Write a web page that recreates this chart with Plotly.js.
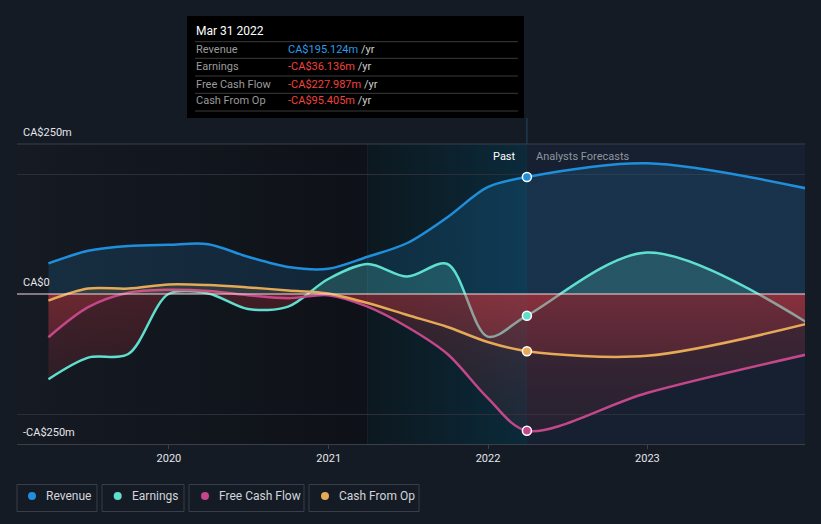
<!DOCTYPE html>
<html>
<head>
<meta charset="utf-8">
<script src="https://cdn.plot.ly/plotly-3.0.1.min.js"></script>
<style>
html,body{margin:0;padding:0;background:#151b25;}
#chart{width:821px;height:524px;}
</style>
</head>
<body>
<div id="chart"></div>
<script>
// ---- data (CA$ millions) ----
const dates = ['2019-03-31','2019-06-30','2019-09-30','2019-12-31','2020-03-31','2020-06-30','2020-09-30','2020-12-31','2021-03-31','2021-06-30','2021-09-30','2021-12-31','2022-03-31','2022-12-31','2023-12-31'];
const revenue  = [51, 72, 80, 82, 83, 62, 45, 42, 62, 85, 128, 178, 195.124, 218, 176];
const earnings = [-142, -106, -100, 0, 1, -25, -21, 25, 50, 29, 50, -71, -36.136, 69, -47];
const fcf      = [-72, -22, 2, 7, 5, -2, -7, -2, -21, -55, -100, -173, -227.987, -165, -101];
const cfo      = [-11, 9, 9, 16, 15, 11, 6, 1, -15, -35, -55, -80, -95.405, -103, -50];
const seriesNames = ['Revenue', 'Earnings', 'Free Cash Flow', 'Cash From Op'];
const yTickVals = [250, 0, -250];
const yTickText = ['CA$250m', 'CA$0', '-CA$250m'];
const yGridMinor = [200, -200];
const pastIndex = 12;           // Mar 31 2022
const tooltipTitle = 'Mar 31 2022';
const highlightStart = '2021-03-31';

// ---- styling ----
const colors = ['#1f8fdc', '#5fe0cf', '#c4478a', '#e5a957'];
const posFill = ['rgba(35,148,223,0.16)', 'rgba(95,224,207,0.20)', 'rgba(196,71,138,0.14)', 'rgba(229,169,87,0.14)'];
const negTop = 'rgba(225,60,70,0.24)';
const negBot = 'rgba(200,50,60,0.06)';
const allSeries = [revenue, earnings, fcf, cfo];

const L = 17, R = 805, T = 144, B = 444;
const px = x => (x - L) / (R - L);
const py = y => (B - y) / (B - T);

const traces = allSeries.map((vals, i) => ({
  type: 'scatter', mode: 'lines', x: dates, y: vals, name: seriesNames[i],
  line: {color: colors[i], width: 2.5, shape: 'spline', smoothing: 0.9},
  fill: 'tozeroy',
  fillgradient: {type: 'vertical', start: -250, stop: 250,
    colorscale: [[0, negBot], [0.5, negTop], [0.5, posFill[i]], [1, posFill[i]]]},
  hoverinfo: 'skip', showlegend: false
}));
allSeries.forEach((vals, i) => {
  traces.push({
    type: 'scatter', mode: 'markers', x: [dates[pastIndex]], y: [vals[pastIndex]],
    marker: {size: 9, color: colors[i], line: {color: '#ffffff', width: 1.5}},
    hoverinfo: 'skip', showlegend: false
  });
});

function gradSvg(c1, c2) {
  const s = '<svg xmlns="http://www.w3.org/2000/svg" width="100" height="100" viewBox="0 0 100 100" preserveAspectRatio="none">' +
    '<defs><linearGradient id="g" x1="0" x2="1" y1="0" y2="0"><stop offset="0" stop-color="' + c1 + '"/>' +
    '<stop offset="1" stop-color="' + c2 + '"/></linearGradient></defs>' +
    '<rect width="100" height="100" fill="url(#g)"/></svg>';
  return 'data:image/svg+xml;charset=utf-8,' + encodeURIComponent(s);
}
const ms = (a, b) => new Date(b) - new Date(a);
const xStart = '2019-01-18', xEnd = '2023-12-28';
const images = [
  {source: gradSvg('#151a23', '#0e1117'), xref: 'x', yref: 'y', x: xStart, y: 250,
   sizex: ms(xStart, highlightStart), sizey: 500, sizing: 'stretch', xanchor: 'left', yanchor: 'top', layer: 'below'},
  {source: gradSvg('#0c181f', '#0b2a3a'), xref: 'x', yref: 'y', x: highlightStart, y: 250,
   sizex: ms(highlightStart, dates[pastIndex]), sizey: 500, sizing: 'stretch', xanchor: 'left', yanchor: 'top', layer: 'below'},
  {source: gradSvg('#172030', '#172030'), xref: 'x', yref: 'y', x: dates[pastIndex], y: 250,
   sizex: ms(dates[pastIndex], xEnd), sizey: 500, sizing: 'stretch', xanchor: 'left', yanchor: 'top', layer: 'below'}
];

const shapes = [
  {type: 'line', xref: 'paper', yref: 'paper', x0: 0, x1: 1, y0: 1, y1: 1, line: {color: '#3a3f49', width: 1}, layer: 'above'},
  {type: 'line', xref: 'x', yref: 'paper', x0: highlightStart, x1: highlightStart, y0: 0, y1: 1, line: {color: '#1c2c36', width: 1}, layer: 'below'},
  {type: 'line', xref: 'paper', yref: 'y', x0: 0, x1: 1, y0: 0, y1: 0, line: {color: '#f2dcdc', width: 1.2}, layer: 'above'},
  {type: 'line', xref: 'x', yref: 'paper', x0: dates[pastIndex], x1: dates[pastIndex], y0: 0, y1: py(118), line: {color: '#1f4a60', width: 1}, layer: 'below'},
  // tooltip box
  {type: 'rect', xref: 'paper', yref: 'paper', x0: px(187), x1: px(524), y0: py(16), y1: py(118), fillcolor: '#000000', line: {width: 0}, layer: 'above'}
];
const sepY = [41.7, 58.3, 76, 93.3, 111];
sepY.forEach(y => shapes.push({type: 'line', xref: 'paper', yref: 'paper', x0: px(195), x1: px(518), y0: py(y), y1: py(y), line: {color: '#3b3b3b', width: 1}, layer: 'above'}));

const annotations = [];
yTickVals.forEach((v, i) => annotations.push({
  xref: 'paper', yref: 'y', x: px(24), y: v, xanchor: 'left', yanchor: 'middle', yshift: 12, xshift: -3,
  text: yTickText[i], showarrow: false, font: {family: 'Roboto, sans-serif', size: 11, color: '#e4e6ea'}
}));
annotations.push({xref: 'paper', yref: 'paper', x: px(518), y: py(156), xanchor: 'right', yanchor: 'middle', text: 'Past', showarrow: false, font: {family: 'Roboto, sans-serif', size: 11, color: '#ffffff'}});
annotations.push({xref: 'paper', yref: 'paper', x: px(534), y: py(156), xanchor: 'left', yanchor: 'middle', text: 'Analysts Forecasts', showarrow: false, font: {family: 'Roboto, sans-serif', size: 11, color: '#8f959e'}});

// tooltip texts
const fmt = v => (v < 0 ? '-CA$' : 'CA$') + Math.abs(v).toFixed(3) + 'm';
annotations.push({xref: 'paper', yref: 'paper', x: px(194), y: py(31.3), xanchor: 'left', yanchor: 'middle', text: tooltipTitle, showarrow: false, font: {family: 'Roboto, sans-serif', size: 12, color: '#ffffff'}});
const rowY = [49.3, 66.7, 84, 100.7];
allSeries.forEach((vals, i) => {
  const v = vals[pastIndex];
  annotations.push({xref: 'paper', yref: 'paper', x: px(194), y: py(rowY[i]), xanchor: 'left', yanchor: 'middle', text: seriesNames[i], showarrow: false, font: {family: 'Roboto, sans-serif', size: 11, color: '#9b9b9b'}});
  annotations.push({xref: 'paper', yref: 'paper', x: px(286), y: py(rowY[i]), xanchor: 'left', yanchor: 'middle',
    text: '<span style="color:' + (v < 0 ? '#f2423c' : '#2b9be8') + '">' + fmt(v) + '</span> /yr', showarrow: false,
    font: {family: 'Roboto, sans-serif', size: 11, color: '#cfcfcf'}});
});

// legend boxes
const legBox = [[17, 97], [102, 184], [189, 304], [309, 419]];
const legDot = [32, 117.7, 205, 325];
const legText = [44, 130, 217, 337];
seriesNames.forEach((n, i) => {
  shapes.push({type: 'rect', xref: 'paper', yref: 'paper', x0: px(legBox[i][0]), x1: px(legBox[i][1]), y0: py(484.5), y1: py(511.5), line: {color: '#393e48', width: 1}, fillcolor: 'rgba(0,0,0,0)'});
  shapes.push({type: 'circle', xref: 'paper', yref: 'paper', x0: px(legDot[i] - 4), x1: px(legDot[i] + 4), y0: py(500), y1: py(492), fillcolor: colors[i], line: {width: 0}});
  annotations.push({xref: 'paper', yref: 'paper', x: px(legText[i]), y: py(496), xanchor: 'left', yanchor: 'middle', text: n, showarrow: false, font: {family: 'Roboto, sans-serif', size: 12, color: '#d2d5da'}});
});

const layout = {
  width: 821, height: 524,
  margin: {l: L, r: 821 - R, t: T, b: 524 - B, pad: 0},
  paper_bgcolor: '#151b25', plot_bgcolor: 'rgba(0,0,0,0)',
  showlegend: false,
  xaxis: {type: 'date', range: [xStart, xEnd], showgrid: false, zeroline: false,
    showline: true, linecolor: '#3a3f49', linewidth: 1,
    ticks: 'outside', ticklen: 4, tickcolor: '#3a3f49', dtick: 'M12', tick0: '2020-01-01', tickformat: '%Y',
    tickfont: {family: 'Roboto, sans-serif', size: 11, color: '#e4e6ea'}, fixedrange: true},
  yaxis: {range: [-250, 250], tickmode: 'array', tickvals: [], showgrid: false,
    minor: {tickmode: 'array', tickvals: yGridMinor, showgrid: true, gridcolor: '#2a2f39', gridwidth: 1, ticks: ''},
    zeroline: false, showticklabels: false, ticks: '', fixedrange: true},
  images: images, shapes: shapes, annotations: annotations,
  hovermode: false
};
Plotly.newPlot('chart', traces, layout, {staticPlot: true, displayModeBar: false});
</script>
</body>
</html>
